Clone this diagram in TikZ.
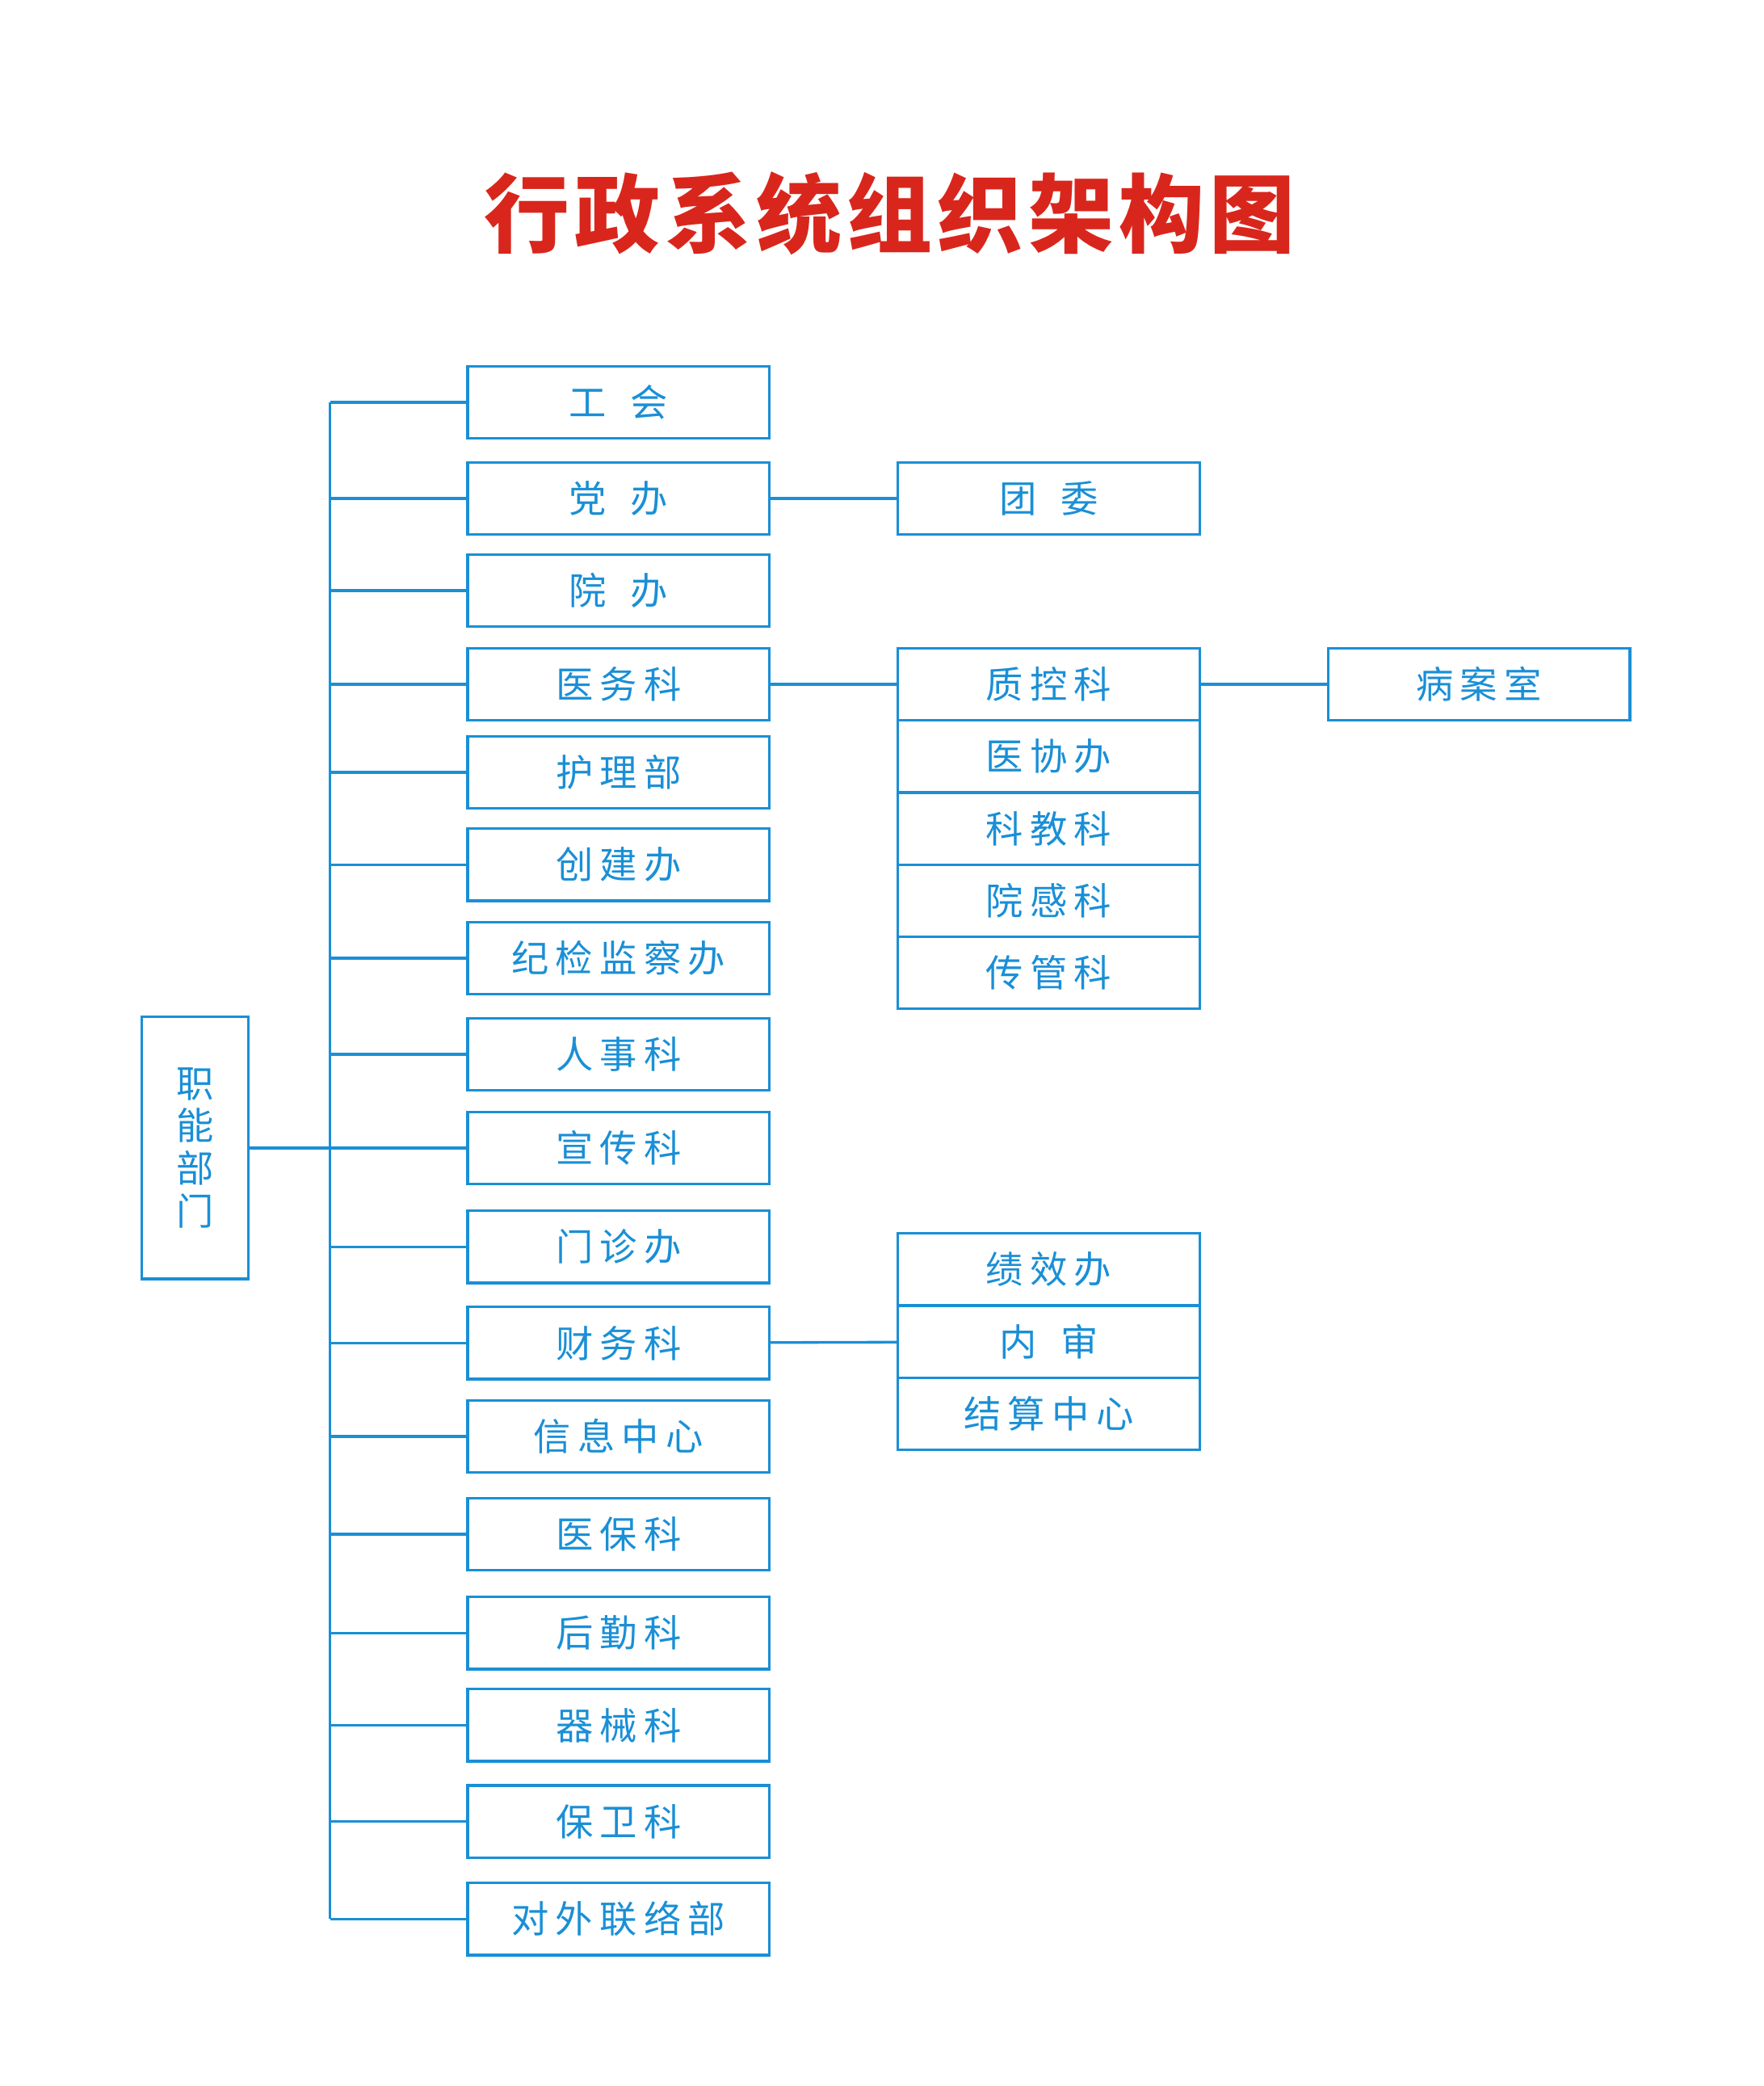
\documentclass[tikz,border=0pt]{standalone}
\usepackage{fontspec}
\usetikzlibrary{positioning}
\newfontfamily\cjk[LetterSpace=18]{Noto Sans CJK SC}
\newfontfamily\cjktitle[LetterSpace=6]{Noto Sans CJK SC Black}
\definecolor{orgblue}{HTML}{1A8FD6}
\definecolor{titlered}{HTML}{D9261C}
\tikzset{
  dept/.style={draw=orgblue,line width=2pt,minimum width=226pt,minimum height=54pt,outer sep=0pt,
    text=orgblue,font=\cjk\fontsize{28}{30}\selectfont,inner sep=0pt},
  link/.style={draw=orgblue,line width=2pt}
}
\begin{document}
\begin{tikzpicture}[x=1pt,y=-1pt]
\useasboundingbox (0,0) rectangle (1320,1561);

% title
\node[text=titlered,font=\cjktitle\fontsize{64}{68}\selectfont] (title) at (666,160) {行政系统组织架构图};

% root
\node[draw=orgblue,line width=2pt,minimum width=80pt,minimum height=196pt,text=orgblue,
  font=\cjk\fontsize{28}{32}\selectfont,align=center,inner sep=0pt,outer sep=0pt] (root) at (146,859)
  {职\\能\\部\\门};
\coordinate (top) at (247,301);
\coordinate (bot) at (247,1436);
\coordinate (mid) at (247,859);
\draw[link] (top) -- (bot);
\draw[link] (root) -- (mid);

% first column
\foreach \y/\name/\txt in {301/gh/工\hspace{18pt}会, 373/db/党\hspace{18pt}办, 442/yb/院\hspace{18pt}办,
  512/ywk/医务科, 578/hlb/护理部, 647/cjb/创建办, 717/jjb/纪检监察办, 789/rsk/人事科,
  859/xck/宣传科, 933/mzb/门诊办, 1005/cwk/财务科, 1075/xxzx/信息中心, 1148/ybk/医保科,
  1222/hqk/后勤科, 1291/qxk/器械科, 1363/bwk/保卫科, 1436/dwllb/对外联络部}{
  \node[dept] (\name) at (463,\y) {\txt};
  \draw[link] (247,\y) -- (\name.west);
}

% second column
\node[dept] (tw) at (785,373) {团\hspace{18pt}委};
\draw[link] (db) -- (tw);

\node[dept] (zkk) at (785,512) {质控科};
\node[dept,below=0pt of zkk] (yxb) {医协办};
\node[dept,below=0pt of yxb] (kjk) {科教科};
\node[dept,below=0pt of kjk] (ygk) {院感科};
\node[dept,below=0pt of ygk] (cgk) {传管科};
\draw[link] (ywk) -- (zkk);

\node[dept] (jxb) at (785,950) {绩效办};
\node[dept,below=0pt of jxb] (ns) {内\hspace{18pt}审};
\node[dept,below=0pt of ns] (jszx) {结算中心};
\draw[link] (cwk) -- (ns);

% third column
\node[dept] (bas) at (1107,512) {病案室};
\draw[link] (zkk) -- (bas);

\end{tikzpicture}
\end{document}
